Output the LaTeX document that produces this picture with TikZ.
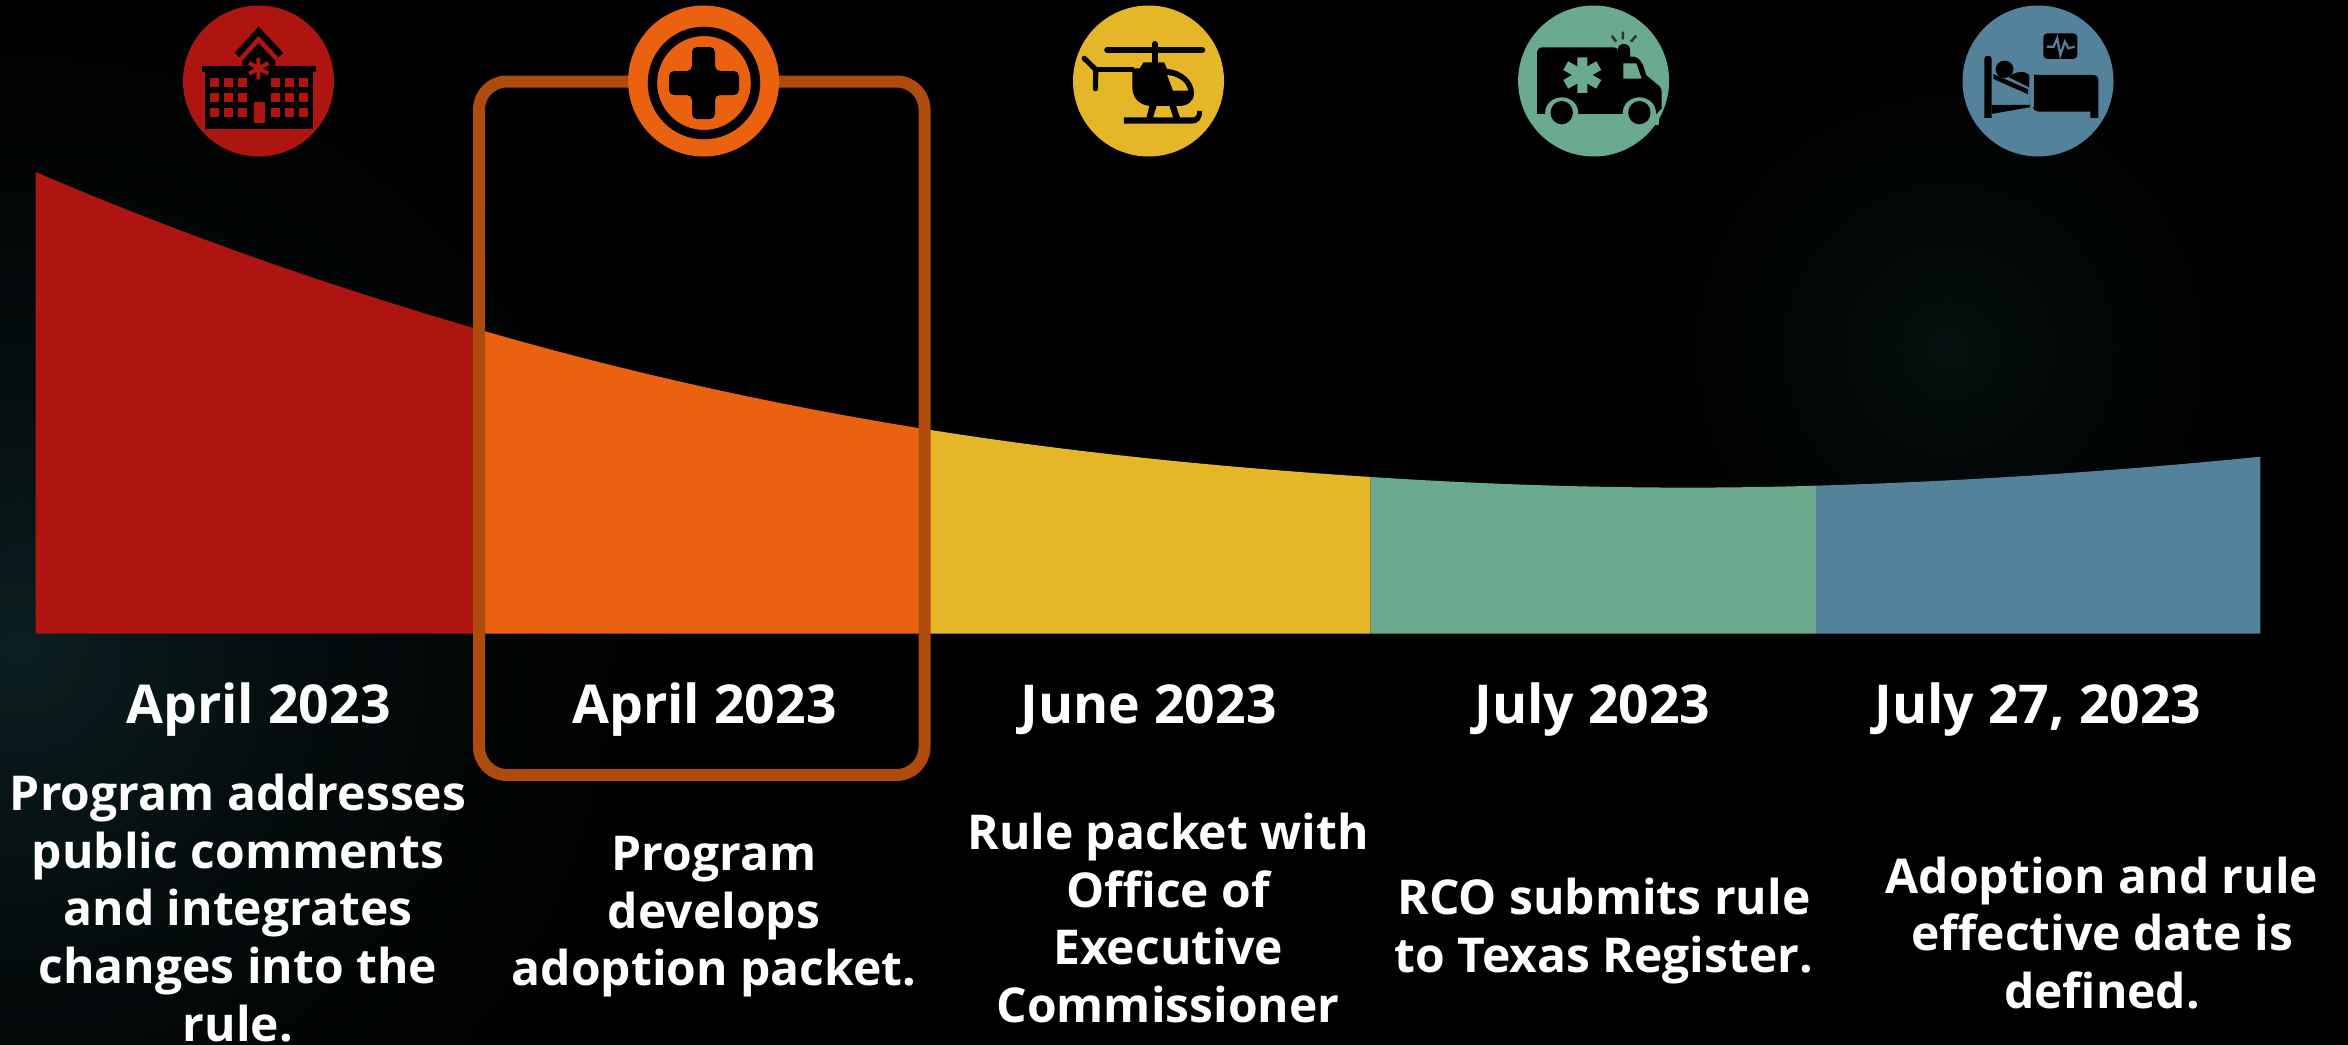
\documentclass[tikz,border=0pt]{standalone}
\usepackage{fontspec}
\setmainfont{Open Sans}
\definecolor{cred}{HTML}{AE1410}
\definecolor{corange}{HTML}{EA6210}
\definecolor{cyellow}{HTML}{E4B628}
\definecolor{cgreen}{HTML}{6AAB8F}
\definecolor{cblue}{HTML}{54829B}
\definecolor{cframe}{HTML}{AF4B0D}
\definecolor{glowA}{HTML}{0B1E20}
\definecolor{glowB}{HTML}{04100F}
\newcommand{\bandcurve}{(35.7,172) .. controls (183.7,235.6) and (331,286.6) .. (479,329.5) .. controls (627.5,372.6) and (776,405.2) .. (924.5,429) .. controls (1073,452.8) and (1222,467.3) .. (1370.7,477) .. controls (1519,486.6) and (1667.8,490.1) .. (1815.8,485.7) .. controls (1964,481.3) and (2112,471.5) .. (2260.4,456.7) -- (2260.4,633.7) -- (35.7,633.7) -- cycle}
\newcommand{\bandpart}[3]{\begin{scope}\clip (#1,0) rectangle (#2,1044); \fill[#3] \bandcurve; \end{scope}}
\newcommand{\glowdisc}[4]{\foreach \k in {1,...,40}{\pgfmathsetmacro{\rr}{#3/40*(41-\k)}\pgfmathsetmacro{\pp}{100*(\k/40)^1.6}\fill[#4!\pp!black] (#1,#2) circle (\rr);}}
\tikzset{
  head/.style={font=\bfseries\fontsize{26.8}{32}\selectfont,text=white,align=center,inner sep=0pt},
  body/.style={font=\bfseries\fontsize{24}{28.8}\selectfont,text=white,align=center,inner sep=0pt},
  iconscale/.style={xscale=0.4464,yscale=0.3333},
}
\begin{document}
\begin{tikzpicture}[x=0.5pt,y=-0.5pt]
\useasboundingbox (0,0) rectangle (2348,1044);
\begin{scope}
\clip (-6,-6) rectangle (2354,1050);
\fill[black] (-6,-6) rectangle (2354,1050);
\glowdisc{20}{650}{680}{glowA}
\glowdisc{1950}{350}{330}{glowB}
\end{scope}
% band
\bandpart{35}{479}{cred}
\bandpart{479}{924.5}{corange}
\bandpart{924.5}{1370.7}{cyellow}
\bandpart{1370.7}{1815.8}{cgreen}
\bandpart{1815.8}{2261}{cblue}
% frame
\draw[cframe,line width=6pt,rounded corners=14pt] (479,81.5) rectangle (924.5,775);
% circles
\fill[cred] (258.5,81) circle (75.5);
\fill[corange] (703.6,81) circle (75.5);
\fill[cyellow] (1148.5,81) circle (75.5);
\fill[cgreen] (1593.6,81) circle (75.5);
\fill[cblue] (2038,81) circle (75.5);
% hospital
\begin{scope}[shift={(150,0)},iconscale]
\fill[black] (190,158) -- (243,80) -- (298,158) -- (288,172) -- (243,107) -- (200,172) -- cycle;
\fill[black] (207,197) -- (207,182) -- (243,130) -- (281,182) -- (281,197) -- cycle;
\fill[black] (116,197) rectangle (372,215);
\fill[black] (123,215) rectangle (366,388);
\foreach \wx in {135,166,197,272,303,334}
  \foreach \wy in {233,279,324}
    \fill[cred] (\wx,\wy) rectangle ++(20,28);
\fill[cred] (232,306) rectangle (258,369);
\draw[cred,line width=2pt] (243,174) -- (243,238) (222,189) -- (265,221) (222,221) -- (265,189);
\end{scope}
% plus
\begin{scope}[shift={(150,0)},iconscale]
\fill[black,even odd rule] (1241,249) ellipse [x radius=126,y radius=169] (1241,249) ellipse [x radius=105,y radius=141];
\end{scope}
\fill[black,rounded corners=2.5pt] (692,47) -- (715,47) -- (715,71) -- (739,71) -- (739,95) -- (715,95) -- (715,119) -- (692,119) -- (692,95) -- (669,95) -- (669,71) -- (692,71) -- cycle;
% helicopter
\begin{scope}[shift={(1040,0)},iconscale]
\draw[black,line width=3.2pt,line cap=round] (151,150) -- (363,150);
\draw[black,line width=3pt,line cap=round] (257,132) -- (257,190);
\fill[black] (222,208) -- (232,187) -- (278,187) -- (285,208) -- cycle;
\fill[black] (207,205) -- (285,207) .. controls (320,210) and (345,245) .. (345,280) .. controls (345,305) and (330,318) .. (310,318) -- (250,318) .. controls (225,318) and (207,295) .. (207,265) -- cycle;
\fill[cyellow] (285,225) -- (298,272) -- (332,272) .. controls (328,245) and (308,228) .. (285,225) -- cycle;
\draw[black,line width=2.6pt] (125,209) -- (210,209);
\draw[black,line width=2.6pt,line cap=round] (99,175) -- (125,209) -- (124,266);
\fill[black] (245,318) -- (261,318) -- (253,355) -- (238,355) -- cycle;
\fill[black] (290,318) -- (305,318) -- (314,355) -- (299,355) -- cycle;
\fill[black] (188,352) -- (343,352) .. controls (350,352) and (352,345) .. (352,333) -- (363,333) .. controls (363,358) and (355,371) .. (340,371) -- (188,371) -- cycle;
\end{scope}
% ambulance
\begin{scope}[shift={(1480,0)},iconscale]
\fill[black] (128,342) -- (128,155) .. controls (128,146) and (134,142) .. (142,142) -- (300,142) .. controls (305,142) and (308,146) .. (309,150) .. controls (309,138) and (314,132) .. (322,132) .. controls (330,132) and (336,138) .. (336,150) -- (336,170) -- (345,170) .. controls (358,172) and (367,195) .. (372,225) -- (403,260) .. controls (406,264) and (407,270) .. (407,280) -- (407,325) -- (395,342) -- cycle;
\fill[cgreen] (183,338) ellipse [x radius=37,y radius=46];
\fill[cgreen] (357,338) ellipse [x radius=37,y radius=46];
\fill[cgreen] (140,342) rectangle (400,375);
\fill[black] (183,338) ellipse [x radius=25,y radius=35];
\fill[black] (357,338) ellipse [x radius=25,y radius=35];
\draw[cgreen,line width=5pt] (229,172) -- (229,279) (192,197) -- (266,253) (192,253) -- (266,197);
\fill[cgreen] (321,190) -- (350,190) -- (362,236) -- (321,236) -- cycle;
\draw[black!80,line width=1.3pt] (320,95) -- (320,118) (295,107) -- (305,125) (350,107) -- (338,125);
% bed
\fill[black,rounded corners=2pt] (1262,100) rectangle (1338,177);
\draw[cblue,line width=1.1pt] (1270,140) -- (1285,140) -- (1293,115) -- (1300,165) -- (1310,125) -- (1318,145) -- (1332,140);
\fill[black] (1130,354) -- (1130,175) .. controls (1130,165) and (1146,165) .. (1146,175) -- (1146,354) -- cycle;
\fill[black] (1146,315) -- (1232,315) -- (1232,225) -- (1240,225) -- (1372,225) .. controls (1380,225) and (1385,230) .. (1385,240) -- (1385,354) -- (1367,354) -- (1367,335) -- (1255,335) .. controls (1245,335) and (1240,330) .. (1238,320) -- (1146,342) -- cycle;
\fill[cblue] (1232,225) rectangle (1240,320);
\fill[black] (1175,208) ellipse [x radius=20,y radius=26];
\fill[black] (1150,222) -- (1228,268) -- (1228,283) -- (1150,237) -- cycle;
\fill[black] (1185,232) .. controls (1195,215) and (1220,210) .. (1230,225) -- (1230,262) -- cycle;
\end{scope}
% texts
\node[head] (h1) at (258.5,709.5) {April 2023};
\node[head] (h2) at (704.5,709.5) {April 2023};
\node[head] (h3) at (1148.6,709.5) {June 2023};
\node[head] (h4) at (1592.5,709.5) {July 2023};
\node[head] (h5) at (2038,709.5) {July 27, 2023};
\node[body] (b1) at (238,908) {Program addresses\\public comments\\and integrates\\changes into the\\rule.};
\node[body] (b2) at (714,917) {Program\\develops\\adoption packet.};
\node[body] (b3) at (1168,918) {Rule packet with\\Office of\\Executive\\Commissioner};
\node[body] (b4) at (1604,931) {RCO submits rule\\to Texas Register.};
\node[body] (b5) at (2102,933) {Adoption and rule\\effective date is\\defined.};
\end{tikzpicture}
\end{document}
